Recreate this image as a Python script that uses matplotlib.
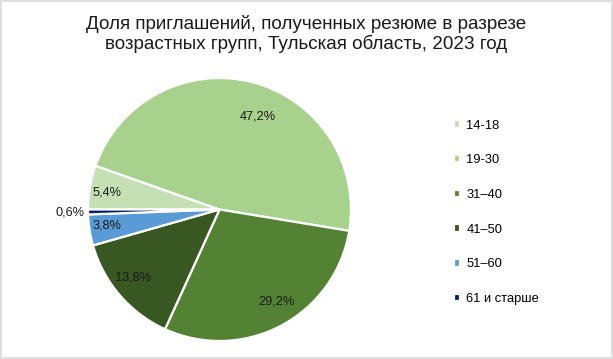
import matplotlib.pyplot as plt
from matplotlib.patches import Rectangle

plt.rcParams['font.family'] = ['Liberation Sans', 'DejaVu Sans']

title = 'Доля приглашений, полученных резюме в разрезе\nвозрастных групп, Тульская область, 2023 год'
groups = ['14-18', '19-30', '31\u201340', '41\u201350', '51\u201360', '61 и старше']
shares = [5.4, 47.2, 29.2, 13.8, 3.8, 0.6]
colors = ['#C5E0B4', '#A9D18E', '#548235', '#385723', '#5B9BD5', '#002060']

# label positions in pie units (radius = 1)
label_pos = [(-0.856, 0.13), (0.29, 0.705), (0.43, -0.70),
             (-0.66, -0.52), (-0.856, -0.12), (-1.135, -0.02)]

fig = plt.figure(figsize=(6.13, 3.59), dpi=100)
fig.patches.append(Rectangle((0.002, 0.003), 0.996, 0.994, transform=fig.transFigure,
                             fill=False, edgecolor='#D9D9D9', linewidth=1.2))

ax = fig.add_axes([(219.5 - 131.5) / 613, (359 - 209.5 - 131.5) / 359,
                   263 / 613, 263 / 359])
wedges, texts = ax.pie(
    shares, colors=colors, startangle=180, counterclock=False, radius=1,
    wedgeprops=dict(edgecolor='white', linewidth=1.6),
)
for (x, y), v in zip(label_pos, shares):
    ax.text(x, y, f'{v:.1f}%'.replace('.', ','), ha='center', va='center',
            fontsize=9.2, color='#1a1a1a')
ax.set_xlim(-1, 1)
ax.set_ylim(-1, 1)

fig.text(0.5, 1 - 34 / 359, title, ha='center', va='center', fontsize=13.6,
         color='#1a1a1a', linespacing=1.12)

fig.legend(wedges, groups, loc='upper left', bbox_to_anchor=(454 / 613, 1 - 119.5 / 359),
           frameon=False, fontsize=9.3, handlelength=0.5, handleheight=0.5,
           handletextpad=0.45, labelspacing=1.76, borderaxespad=0, borderpad=0)

fig.savefig('out.png', dpi=100)
